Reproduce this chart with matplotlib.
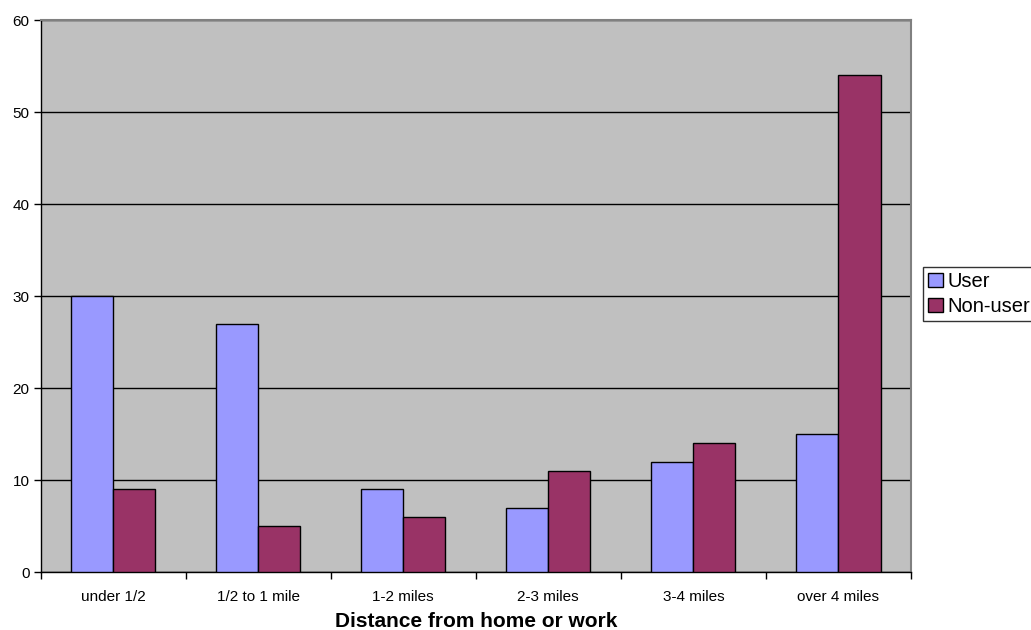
import numpy as np
import matplotlib
matplotlib.use("Agg")
import matplotlib.pyplot as plt
from matplotlib.patches import Patch

categories = ["under 1/2", "1/2 to 1 mile", "1-2 miles", "2-3 miles", "3-4 miles", "over 4 miles"]
user = [30, 27, 9, 7, 12, 15]
non_user = [9, 5, 6, 11, 14, 54]

plt.rcParams["font.family"] = ["Liberation Sans", "DejaVu Sans"]

fig = plt.figure(figsize=(10.31, 6.30), dpi=100)
ax = fig.add_axes([40.5 / 1031, 1 - 572 / 630, (911 - 40.5) / 1031, (572 - 20) / 630])
ax.set_facecolor("#C0C0C0")

x = np.arange(len(categories))
w = 0.29
ax.bar(x - w / 2, user, w, color="#9999FF", edgecolor="black", linewidth=1, zorder=3)
ax.bar(x + w / 2, non_user, w, color="#993366", edgecolor="black", linewidth=1, zorder=3)

ax.set_xlim(-0.5, len(categories) - 0.5)
ax.set_ylim(0, 60)
ax.set_yticks(range(0, 61, 10))
ax.yaxis.grid(True, color="black", linewidth=1, zorder=1)
ax.set_axisbelow(True)

ax.set_xticks(x)
ax.set_xticklabels(categories)
ax.set_xticks(np.arange(-0.5, len(categories)), minor=True)
ax.tick_params(axis="x", which="major", length=0, pad=13, labelsize=11)
ax.tick_params(axis="x", which="minor", length=5, width=1, direction="out")
ax.tick_params(axis="y", length=5, width=1, direction="out", labelsize=11, pad=3)

for s in ("left", "bottom"):
    ax.spines[s].set_color("black")
    ax.spines[s].set_linewidth(1)
for s in ("top", "right"):
    ax.spines[s].set_color("#808080")
    ax.spines[s].set_linewidth(1.5)

ax.set_xlabel("Distance from home or work", fontsize=15, fontweight="bold", labelpad=6)

handles = [Patch(facecolor="#9999FF", edgecolor="black", label="User"),
           Patch(facecolor="#993366", edgecolor="black", label="Non-user")]
fig.legend(handles=handles, loc="upper left", bbox_to_anchor=(923 / 1031, 1 - 267 / 630),
           frameon=True, fancybox=False, edgecolor="black", fontsize=14.5,
           handlelength=0.75, handleheight=0.75, handletextpad=0.2, borderpad=0.25,
           labelspacing=0.3, borderaxespad=0)

fig.savefig("out.png", dpi=100)
